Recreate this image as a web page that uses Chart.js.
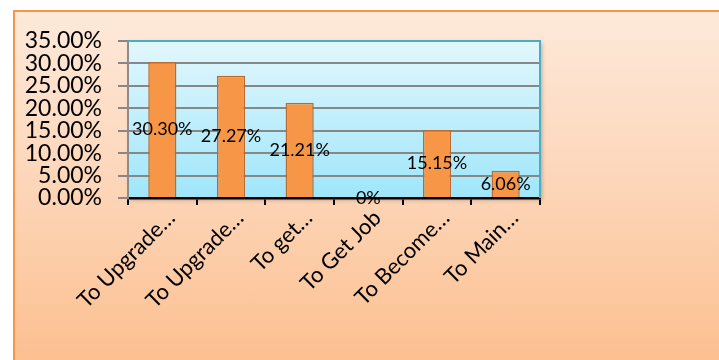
<!DOCTYPE html>
<html>
<head>
<meta charset="utf-8">
<script src="https://cdn.jsdelivr.net/npm/chart.js@4/dist/chart.umd.min.js"></script>
<style>
  html, body { margin: 0; padding: 0; background: #ffffff; width: 719px; height: 360px; overflow: hidden; }
  #frame {
    position: absolute; left: 13px; top: 10px; width: 720px; height: 360px;
    border: 2px solid #f79646; box-sizing: border-box;
    background: linear-gradient(to bottom, #fde9da 0%, #fdd7bb 45%, #fcbf8f 100%);
  }
  #wrap { position: absolute; left: 0; top: 0; width: 719px; height: 360px; }
</style>
</head>
<body>
<div id="frame"></div>
<div id="wrap"><canvas id="c" width="719" height="360"></canvas></div>
<script>
const categories = ["To Upgrade…", "To Upgrade…", "To get…", "To Get Job", "To Become…", "To Main…"];
const values = [30.30, 27.27, 21.21, 0, 15.15, 6.06];
const valueLabels = ["30.30%", "27.27%", "21.21%", "0%", "15.15%", "6.06%"];
const yMin = 0, yMax = 35, yStep = 5;

const FONT = "Lato, 'Open Sans', sans-serif";

const plotBg = {
  id: 'plotBg',
  beforeDraw(chart) {
    const {ctx, chartArea: a} = chart;
    ctx.save();
    ctx.shadowColor = 'rgba(0,0,0,0.25)';
    ctx.shadowBlur = 4;
    ctx.shadowOffsetX = 2;
    ctx.shadowOffsetY = 2;
    const g = ctx.createLinearGradient(0, a.top, 0, a.bottom);
    g.addColorStop(0, '#e2f7fd');
    g.addColorStop(1, '#9fe6fb');
    ctx.fillStyle = g;
    ctx.fillRect(a.left, a.top, a.right - a.left, a.bottom - a.top);
    ctx.restore();
  },
  afterDatasetsDraw(chart) {
    const {ctx, chartArea: a} = chart;
    ctx.save();
    ctx.strokeStyle = '#4bacc6';
    ctx.lineWidth = 2;
    ctx.beginPath();
    ctx.moveTo(a.left, a.top);
    ctx.lineTo(a.right, a.top);
    ctx.lineTo(a.right, a.bottom);
    ctx.stroke();
    // data labels
    const meta = chart.getDatasetMeta(0);
    ctx.fillStyle = '#000';
    ctx.font = "18px " + FONT;
    ctx.textAlign = 'center';
    ctx.textBaseline = 'middle';
    meta.data.forEach((bar, i) => {
      const y = (bar.y + bar.base) / 2;
      ctx.fillText(valueLabels[i], bar.x, y);
    });
    ctx.restore();
  }
};

new Chart(document.getElementById('c'), {
  type: 'bar',
  data: {
    labels: categories,
    datasets: [{
      data: values,
      backgroundColor: '#f79646',
      borderColor: '#b86a30',
      borderWidth: 1.5,
      barPercentage: 0.41,
      categoryPercentage: 1.0
    }]
  },
  options: {
    responsive: false,
    animation: false,
    devicePixelRatio: 1,
    layout: { padding: { top: 41, right: 179, left: 0, bottom: 0 } },
    plugins: { legend: { display: false }, tooltip: { enabled: false } },
    scales: {
      x: {
        afterFit(s) { s.height = 162; },
        border: { display: true, color: '#000', width: 2.5 },
        grid: { display: true, drawOnChartArea: false, drawTicks: true, tickLength: 7, color: '#000', lineWidth: 2, offset: true },
        ticks: {
          color: '#000', font: { family: FONT, size: 22 },
          minRotation: 45, maxRotation: 45, autoSkip: false, padding: 0, labelOffset: 9
        }
      },
      y: {
        min: yMin, max: yMax,
        afterFit(s) { s.width = 128; },
        border: { display: true, color: '#8c8c8c', width: 2 },
        grid: { color: '#878787', lineWidth: 2, tickLength: 10, drawTicks: true },
        ticks: {
          stepSize: yStep, autoSkip: false, color: '#000', padding: 16,
          font: { family: FONT, size: 23 },
          callback: v => v.toFixed(2) + '%'
        }
      }
    }
  },
  plugins: [plotBg]
});
</script>
</body>
</html>
